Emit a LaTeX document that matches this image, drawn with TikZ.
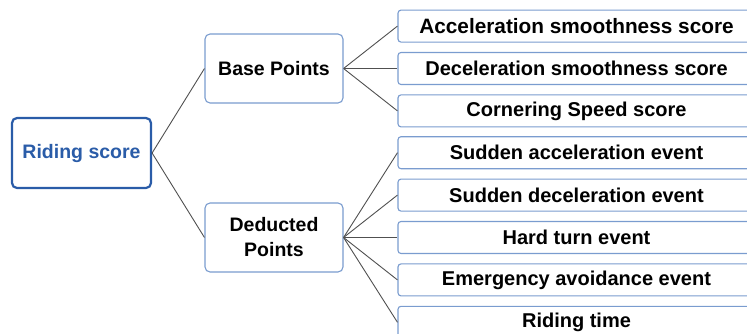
\documentclass[tikz,border=0pt]{standalone}
\usepackage{fontspec}
\setmainfont{Liberation Sans}
\definecolor{rootblue}{HTML}{2A5CA8}
\definecolor{boxblue}{HTML}{7A9CCF}
\definecolor{linegray}{HTML}{505050}

\begin{document}
\begin{tikzpicture}[x=1pt, y=1pt, grow'=right,
        nodes={draw=boxblue, line width=1.1pt, fill=white, rounded corners=5pt, align=center, inner sep=0pt,
                font=\bfseries\fontsize{19.5}{25}\selectfont},
        edge from parent/.style={draw=linegray, line width=0.9pt},
        edge from parent path={(\tikzparentnode.east) -- (\tikzchildnode.west)},
        level 1/.style={level distance=192.5pt, sibling distance=169pt,
                nodes={minimum width=138pt, minimum height=69pt}},
        level 2/.style={level distance=302.5pt, sibling distance=42.4pt,
                nodes={minimum width=357pt, minimum height=32pt, rounded corners=3pt,
                        font=\bfseries\fontsize{20}{24}\selectfont}}]
        \useasboundingbox (0,0) rectangle (747,333);
        \clip (0,0) rectangle (747,333);
        \node[draw=rootblue, line width=2.2pt, text=rootblue, minimum width=139pt, minimum height=70pt] (root) at (81.5,180) {Riding score}
                child{node (base) {Base Points}
                        child{node[font=\bfseries\fontsize{20.8}{24}\selectfont] (accsmooth) {Acceleration smoothness score}}
                        child{node (decsmooth) {Deceleration smoothness score}}
                        child{node (corner) {Cornering Speed score}}
                }
                child{node (deduct) {Deducted\\Points}
                        child{node (suddenacc) {Sudden acceleration event}}
                        child{node (suddendec) {Sudden deceleration event}}
                        child{node (hardturn) {Hard turn event}}
                        child{node (emergency) {Emergency avoidance event}}
                        child{node (ridetime) {Riding time}}
                };
\end{tikzpicture}
\end{document}
